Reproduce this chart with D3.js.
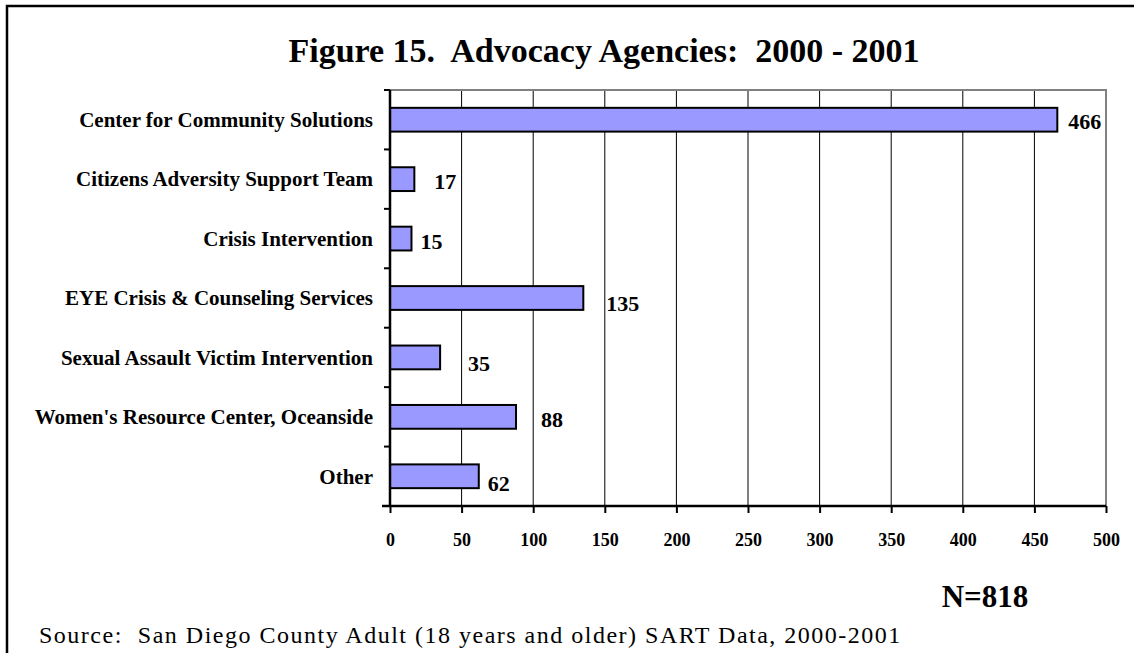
<!DOCTYPE html>
<html>
<head>
<meta charset="utf-8">
<script src="https://cdn.jsdelivr.net/npm/d3@7"></script>
<style>
  body { margin: 0; background: #fff; }
  text { font-family: "Liberation Serif", "Times New Roman", serif; white-space: pre; }
</style>
</head>
<body>
<svg id="chart" width="1134" height="653"></svg>
<script>
// data
const agencies = [
    "Center for Community Solutions",
    "Citizens Adversity Support Team",
    "Crisis Intervention",
    "EYE Crisis & Counseling Services",
    "Sexual Assault Victim Intervention",
    "Women's Resource Center, Oceanside",
    "Other"
];
const counts = [466, 17, 15, 135, 35, 88, 62];
const xTicks = [0, 50, 100, 150, 200, 250, 300, 350, 400, 450, 500];
const totalN = 818;

// value labels were hand placed in the original, small nudges [dx, dy]
const labelNudge = [[11, 2], [20, 2], [9, 3], [23, 5], [28, 6], [25, 2], [9, 7]];

const svg = d3.select("#chart");

// outer frame (runs off the right and bottom edge)
svg.append("rect")
    .attr("x", 7)
    .attr("y", 6)
    .attr("width", 1140)
    .attr("height", 660)
    .attr("fill", "none")
    .attr("stroke", "black")
    .attr("stroke-width", 2.5);

const plot = {left: 390, right: 1106, top: 90, bottom: 506};

const x = d3.scaleLinear().domain([0, 500]).range([plot.left, plot.right]);
const y = d3.scaleBand()
    .domain(agencies)
    .range([plot.top, plot.bottom])
    .paddingInner(0.6)
    .paddingOuter(0.3);

// title
svg.append("text")
    .attr("x", 604)
    .attr("y", 62)
    .attr("text-anchor", "middle")
    .attr("font-size", 34)
    .attr("font-weight", "bold")
    .text("Figure 15.  Advocacy Agencies:  2000 - 2001");

// vertical gridlines
svg.append("g")
    .selectAll("line")
    .data(xTicks.slice(1, -1))
    .join("line")
    .attr("x1", d => x(d))
    .attr("x2", d => x(d))
    .attr("y1", plot.top)
    .attr("y2", plot.bottom)
    .attr("stroke", "black")
    .attr("stroke-width", 1);

// grey plot border top & right
svg.append("path")
    .attr("d", `M${plot.left},${plot.top}H${plot.right}V${plot.bottom}`)
    .attr("fill", "none")
    .attr("stroke", "#808080")
    .attr("stroke-width", 2);

// bars
svg.append("g")
    .selectAll("rect")
    .data(counts)
    .join("rect")
    .attr("x", x(0))
    .attr("y", (d, i) => y(agencies[i]))
    .attr("width", d => x(d) - x(0))
    .attr("height", y.bandwidth())
    .attr("fill", "#9999ff")
    .attr("stroke", "black")
    .attr("stroke-width", 2);

// value labels
svg.append("g")
    .selectAll("text")
    .data(counts)
    .join("text")
    .attr("x", (d, i) => x(d) + labelNudge[i][0])
    .attr("y", (d, i) => y(agencies[i]) + y.bandwidth() / 2 + labelNudge[i][1])
    .attr("dy", "0.35em")
    .attr("font-size", 22)
    .attr("font-weight", "bold")
    .text(d => d);

// category axis: ticks sit between categories
const step = y.step();
const bounds = agencies.map(a => y(a) - step * 0.3).concat([plot.bottom]);
const yAxis = svg.append("g");
yAxis.append("line")
    .attr("x1", plot.left).attr("x2", plot.left)
    .attr("y1", plot.top).attr("y2", plot.bottom)
    .attr("stroke", "black").attr("stroke-width", 2.5);
yAxis.selectAll(".tk")
    .data(bounds)
    .join("line")
    .attr("class", "tk")
    .attr("x1", plot.left - 6).attr("x2", plot.left)
    .attr("y1", d => d).attr("y2", d => d)
    .attr("stroke", "black").attr("stroke-width", 2);
yAxis.selectAll("text")
    .data(agencies)
    .join("text")
    .attr("x", 373)
    .attr("y", d => y(d) + y.bandwidth() / 2)
    .attr("dy", "0.35em")
    .attr("text-anchor", "end")
    .attr("font-size", 21)
    .attr("font-weight", "bold")
    .text(d => d);

// value axis
const xAxis = d3.axisBottom(x)
    .tickValues(xTicks)
    .tickSize(7)
    .tickPadding(20)
    .tickSizeOuter(0);
const gx = svg.append("g")
    .attr("transform", `translate(0,${plot.bottom})`)
    .call(xAxis);
gx.select(".domain")
    .attr("stroke", "black")
    .attr("stroke-width", 2.5)
    .attr("d", `M${plot.left - 8},0H${plot.right}`);
gx.selectAll(".tick line").attr("stroke", "black").attr("stroke-width", 2);
gx.selectAll(".tick text")
    .attr("fill", "black")
    .attr("font-family", "Liberation Serif")
    .attr("font-size", 18)
    .attr("font-weight", "bold");

// N and source
svg.append("text")
    .attr("x", 985)
    .attr("y", 607)
    .attr("text-anchor", "middle")
    .attr("font-size", 31)
    .attr("font-weight", "bold")
    .text("N=" + totalN);

svg.append("text")
    .attr("x", 39)
    .attr("y", 643)
    .attr("font-size", 24)
    .attr("letter-spacing", 1.5)
    .text("Source:  San Diego County Adult (18 years and older) SART Data, 2000-2001");
</script>
</body>
</html>
